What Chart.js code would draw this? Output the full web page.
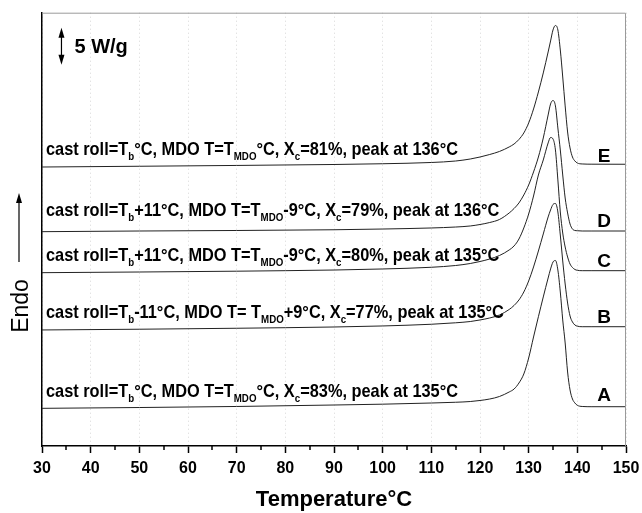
<!DOCTYPE html>
<html>
<head>
<meta charset="utf-8">
<script src="https://cdn.jsdelivr.net/npm/chart.js@4.4.1/dist/chart.umd.min.js"></script>
<style>
  html, body { margin: 0; padding: 0; background: #fff; }
</style>
</head>
<body>
<canvas id="chart" width="642" height="513"></canvas>
<script>
// temperature grid (°C) shared by all DSC traces
const temps = [30, 50, 70, 90, 100, 110, 115, 118, 120, 122, 124, 126, 127, 128, 129, 130, 131, 132, 133, 134,
  134.5, 135, 135.5, 136, 136.5, 137, 137.5, 138, 138.5, 139, 139.5, 140, 141, 143, 150];

// heat flow (W/g, stacked offsets)
const curveA = [5.09, 5.20, 5.34, 5.54, 5.65, 5.81, 5.91, 6.01, 6.15, 6.35, 6.69, 7.30, 7.70, 8.51, 9.73, 11.89, 14.73, 17.47, 20.14, 22.70,
  23.92, 24.86, 25.07, 23.78, 20.81, 17.03, 13.92, 10.00, 7.57, 6.35, 5.81, 5.50, 5.34, 5.31, 5.31];
const curveB = [15.68, 15.78, 15.91, 16.08, 16.22, 16.45, 16.65, 16.82, 17.03, 17.30, 17.70, 18.45, 18.99, 19.73, 20.81, 22.30, 24.19, 26.35, 28.65, 30.95,
  31.89, 32.64, 32.77, 31.62, 28.51, 25.00, 21.89, 19.32, 17.57, 16.76, 16.35, 16.19, 16.12, 16.12, 16.12];
const curveC = [23.42, 23.51, 23.62, 23.78, 23.92, 24.15, 24.39, 24.66, 24.93, 25.27, 25.74, 26.49, 27.03, 27.97, 29.46, 31.35, 33.78, 36.62, 38.65, 40.95,
  41.69, 41.49, 40.00, 35.95, 31.62, 28.78, 26.89, 25.54, 24.59, 24.12, 23.85, 23.74, 23.69, 23.69, 23.69];
const curveD = [28.96, 29.05, 29.12, 29.22, 29.32, 29.46, 29.59, 29.73, 29.93, 30.20, 30.61, 31.49, 32.09, 32.84, 33.92, 35.27, 37.03, 39.05, 41.62, 44.73,
  46.22, 46.69, 45.95, 42.97, 40.00, 36.62, 33.51, 31.49, 30.00, 29.32, 29.12, 29.09, 29.05, 29.05, 29.05];
const curveE = [37.70, 37.80, 37.91, 38.04, 38.14, 38.31, 38.51, 38.78, 39.05, 39.39, 39.80, 40.41, 40.81, 41.42, 42.30, 43.65, 45.54, 47.84, 50.41, 53.24,
  54.73, 56.22, 56.82, 56.22, 53.51, 49.86, 45.95, 42.43, 40.27, 39.05, 38.51, 38.24, 38.11, 38.08, 38.07];

const curves = [curveA, curveB, curveC, curveD, curveE];
const curveNames = ["A", "B", "C", "D", "E"];
// _{...} marks a subscript
const curveLabels = [
  "cast roll=T_{b}°C, MDO T=T_{MDO}°C, X_{c}=83%, peak at 135°C",
  "cast roll=T_{b}-11°C, MDO T= T_{MDO}+9°C, X_{c}=77%, peak at 135°C",
  "cast roll=T_{b}+11°C, MDO T=T_{MDO}-9°C, X_{c}=80%, peak at 135°C",
  "cast roll=T_{b}+11°C, MDO T=T_{MDO}-9°C, X_{c}=79%, peak at 136°C",
  "cast roll=T_{b}°C, MDO T=T_{MDO}°C, X_{c}=81%, peak at 136°C",
];
// scale bar: 5 W/g, drawn at 34 °C
const scaleBar = [51.5, 56.5];
const scaleBarTemp = 34;

const FONT = "'Liberation Sans', Arial, sans-serif";

function richWidth(ctx, str, size, subSize) {
  let w = 0;
  str.split(/_\{([^}]*)\}/).forEach((p, i) => {
    ctx.font = "bold " + (i % 2 ? subSize : size) + "px " + FONT;
    w += ctx.measureText(p).width;
  });
  return w;
}

function drawRich(ctx, str, x, y, size, subSize, sx) {
  ctx.save();
  ctx.translate(x, y);
  ctx.scale(sx, 1);
  ctx.textBaseline = "alphabetic";
  ctx.textAlign = "left";
  let cx = 0;
  str.split(/_\{([^}]*)\}/).forEach((p, i) => {
    const sub = i % 2 === 1;
    ctx.font = "bold " + (sub ? subSize : size) + "px " + FONT;
    ctx.fillText(p, cx, sub ? 5 : 0);
    cx += ctx.measureText(p).width;
  });
  ctx.restore();
}

function arrowHead(ctx, x, y, dir) {
  ctx.beginPath();
  ctx.moveTo(x, y);
  ctx.lineTo(x - 3, y - dir * 10);
  ctx.lineTo(x + 3, y - dir * 10);
  ctx.closePath();
  ctx.fill();
}

const decorations = {
  id: "decorations",
  afterDatasetsDraw(chart) {
    const ctx = chart.ctx;
    const xs = chart.scales.x, ys = chart.scales.y;
    const a = chart.chartArea;
    ctx.save();

    // frame on top and right
    ctx.strokeStyle = "#9a9a9a";
    ctx.lineWidth = 1;
    ctx.beginPath();
    ctx.moveTo(a.left, a.top + 0.5);
    ctx.lineTo(a.right - 0.5, a.top + 0.5);
    ctx.lineTo(a.right - 0.5, a.bottom);
    ctx.stroke();

    // minor ticks
    ctx.strokeStyle = "#000";
    ctx.lineWidth = 1.5;
    for (let t = 35; t < 150; t += 10) {
      const px = Math.round(xs.getPixelForValue(t));
      ctx.beginPath();
      ctx.moveTo(px, a.bottom);
      ctx.lineTo(px, a.bottom + 4);
      ctx.stroke();
    }

    // scale bar
    ctx.fillStyle = "#000";
    const bx = xs.getPixelForValue(scaleBarTemp);
    const by0 = ys.getPixelForValue(scaleBar[0]);
    const by1 = ys.getPixelForValue(scaleBar[1]);
    ctx.lineWidth = 1.2;
    ctx.beginPath();
    ctx.moveTo(bx, by0 - 8);
    ctx.lineTo(bx, by1 + 8);
    ctx.stroke();
    arrowHead(ctx, bx, by1, -1);
    arrowHead(ctx, bx, by0, 1);
    ctx.font = "bold 20px " + FONT;
    ctx.textBaseline = "alphabetic";
    ctx.fillText("5 W/g", bx + 13, (by0 + by1) / 2 + 7);

    // Endo arrow and label
    ctx.lineWidth = 1.2;
    ctx.beginPath();
    ctx.moveTo(19, 262);
    ctx.lineTo(19, 200);
    ctx.stroke();
    arrowHead(ctx, 19, 193, -1);
    ctx.save();
    ctx.translate(28, 306);
    ctx.rotate(-Math.PI / 2);
    ctx.font = "23px " + FONT;
    ctx.textAlign = "center";
    ctx.fillText("Endo", 0, 0);
    ctx.restore();

    // curve captions
    const sx = 412 / richWidth(ctx, curveLabels[4], 18.5, 11);
    const baselines = [396.7, 318.3, 261, 216, 155];
    curveLabels.forEach((s, i) => drawRich(ctx, s, 46, baselines[i], 18.5, 11, sx));

    // curve letters
    const letterY = [400.7, 323.3, 267.3, 226.7, 161.7];
    ctx.font = "bold 19px " + FONT;
    ctx.textAlign = "center";
    curveNames.forEach((n, i) => ctx.fillText(n, 604, letterY[i]));

    ctx.restore();
  }
};

new Chart(document.getElementById("chart"), {
  type: "line",
  data: {
    datasets: curves.map((c, i) => ({
      label: curveNames[i],
      data: temps.map((t, j) => ({ x: t, y: c[j] })),
      borderColor: "#222",
      borderWidth: 1,
      pointRadius: 0,
      fill: false,
      cubicInterpolationMode: "monotone",
    })),
  },
  options: {
    responsive: false,
    animation: false,
    layout: { padding: { left: 42, right: 16, top: 12.7, bottom: 0 } },
    plugins: { legend: { display: false }, tooltip: { enabled: false } },
    scales: {
      x: {
        type: "linear",
        min: 30,
        max: 150,
        afterFit(scale) {
          scale.paddingLeft = 0;
          scale.paddingRight = 0;
        },
        ticks: {
          stepSize: 10,
          maxRotation: 0,
          padding: 6,
          color: "#000",
          font: { family: FONT, size: 16, weight: "bold" },
        },
        grid: {
          color: "rgba(0,0,0,0.16)",
          lineWidth: 1,
          tickColor: "#000",
          tickWidth: 1.5,
          tickLength: 7,
        },
        border: { display: true, color: "#000", width: 1.5, dash: [1, 3] },
        title: {
          display: true,
          text: "Temperature°C",
          color: "#000",
          padding: { top: 2.4, bottom: 0 },
          font: { family: FONT, size: 22, weight: "bold" },
        },
      },
      y: {
        type: "linear",
        min: 0,
        max: 58.55,
        ticks: { display: false },
        grid: { display: false, drawTicks: false },
        border: { display: true, color: "#000", width: 1.5 },
      },
    },
  },
  plugins: [decorations],
});
</script>
</body>
</html>
